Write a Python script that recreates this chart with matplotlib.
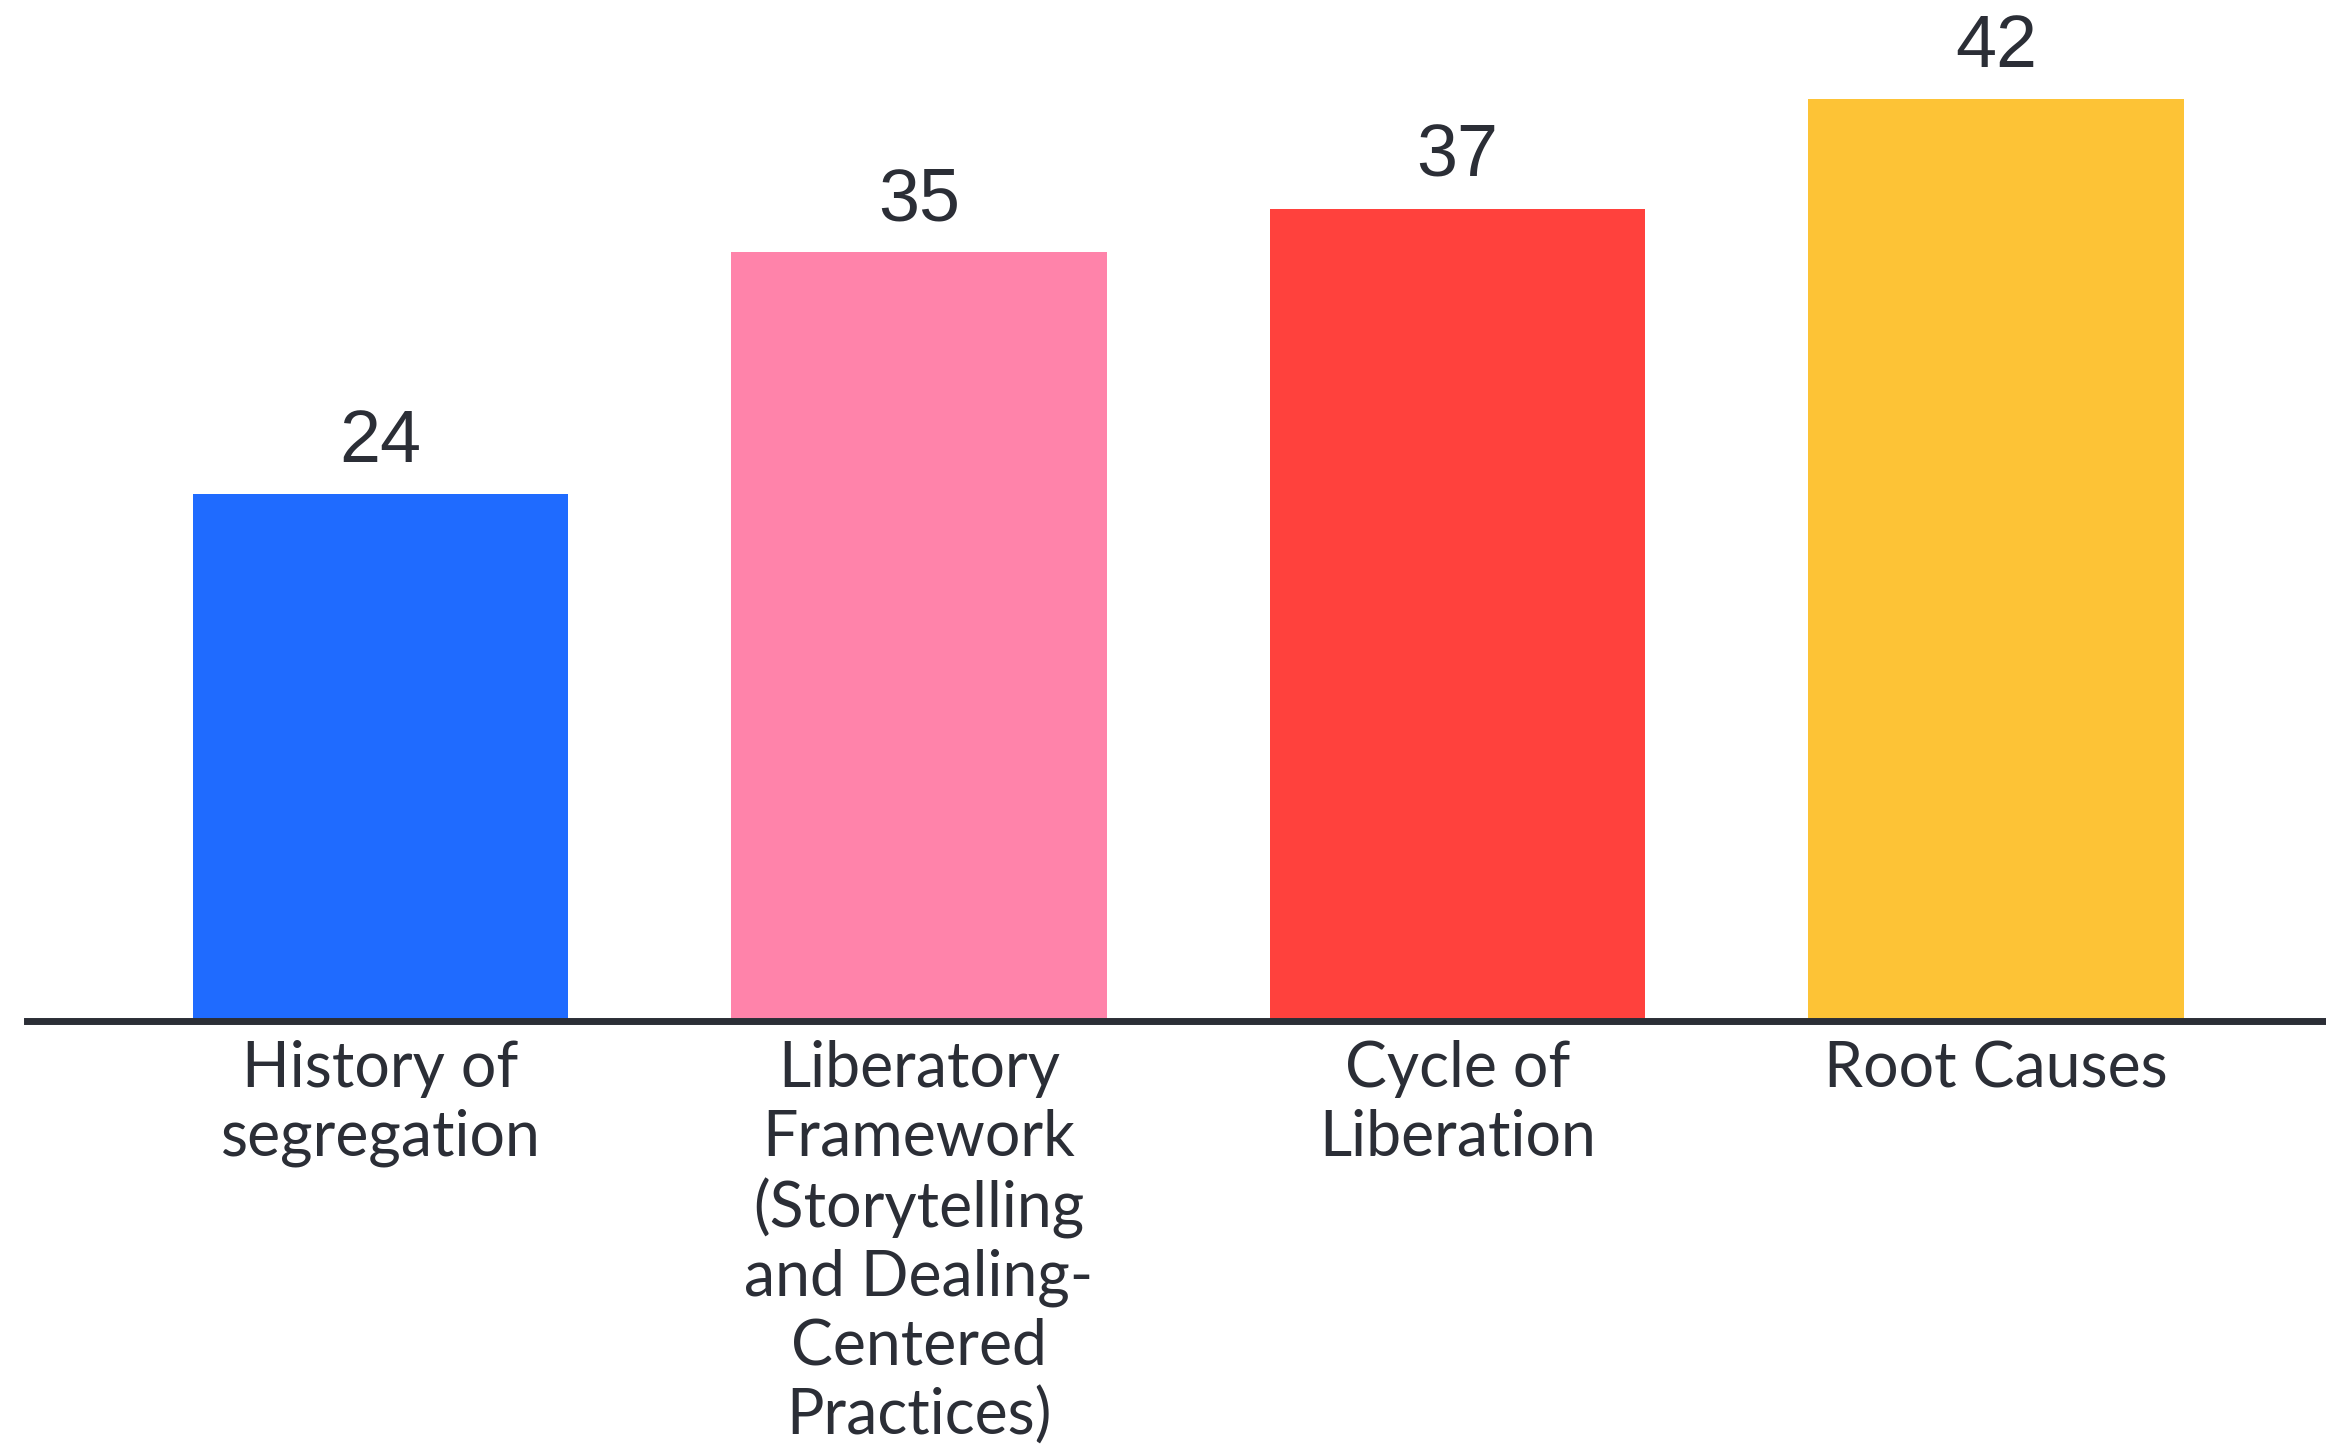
import matplotlib
matplotlib.use("Agg")
import matplotlib.pyplot as plt

categories = [
    "History of\nsegregation",
    "Liberatory\nFramework\n(Storytelling\nand Dealing-\nCentered\nPractices)",
    "Cycle of\nLiberation",
    "Root Causes",
]
values = [24, 35, 37, 42]
bar_colors = ["#1f6bff", "#ff83aa", "#ff413d", "#fdc336"]

text_color = "#2b2e36"

fig = plt.figure(figsize=(23.26, 14.44), dpi=100)
ax = fig.add_axes([0.0115, 0.2932, 0.9885, 0.7068])

x = list(range(len(values)))
bars = ax.bar(x, values, width=0.697, color=bar_colors, zorder=2)

# value labels above each bar
for b, v in zip(bars, values):
    ax.annotate(str(v), (b.get_x() + b.get_width() / 2, v),
                xytext=(0, 12), textcoords="offset points",
                ha="center", va="bottom", fontsize=53,
                family="Liberation Sans", color=text_color)

ax.set_xlim(-0.657, 3.613)
ax.set_ylim(0, 46.5)

for side in ["top", "right", "left"]:
    ax.spines[side].set_visible(False)
ax.spines["bottom"].set_linewidth(5)
ax.spines["bottom"].set_color(text_color)
ax.spines["bottom"].set_zorder(3)

ax.set_yticks([])
ax.set_xticks(x)
ax.set_xticklabels(categories, fontsize=45, family="Lato",
                   color=text_color, linespacing=1.22, va="top")
ax.tick_params(axis="x", length=0, pad=14)

fig.savefig("out.png", dpi=100)
